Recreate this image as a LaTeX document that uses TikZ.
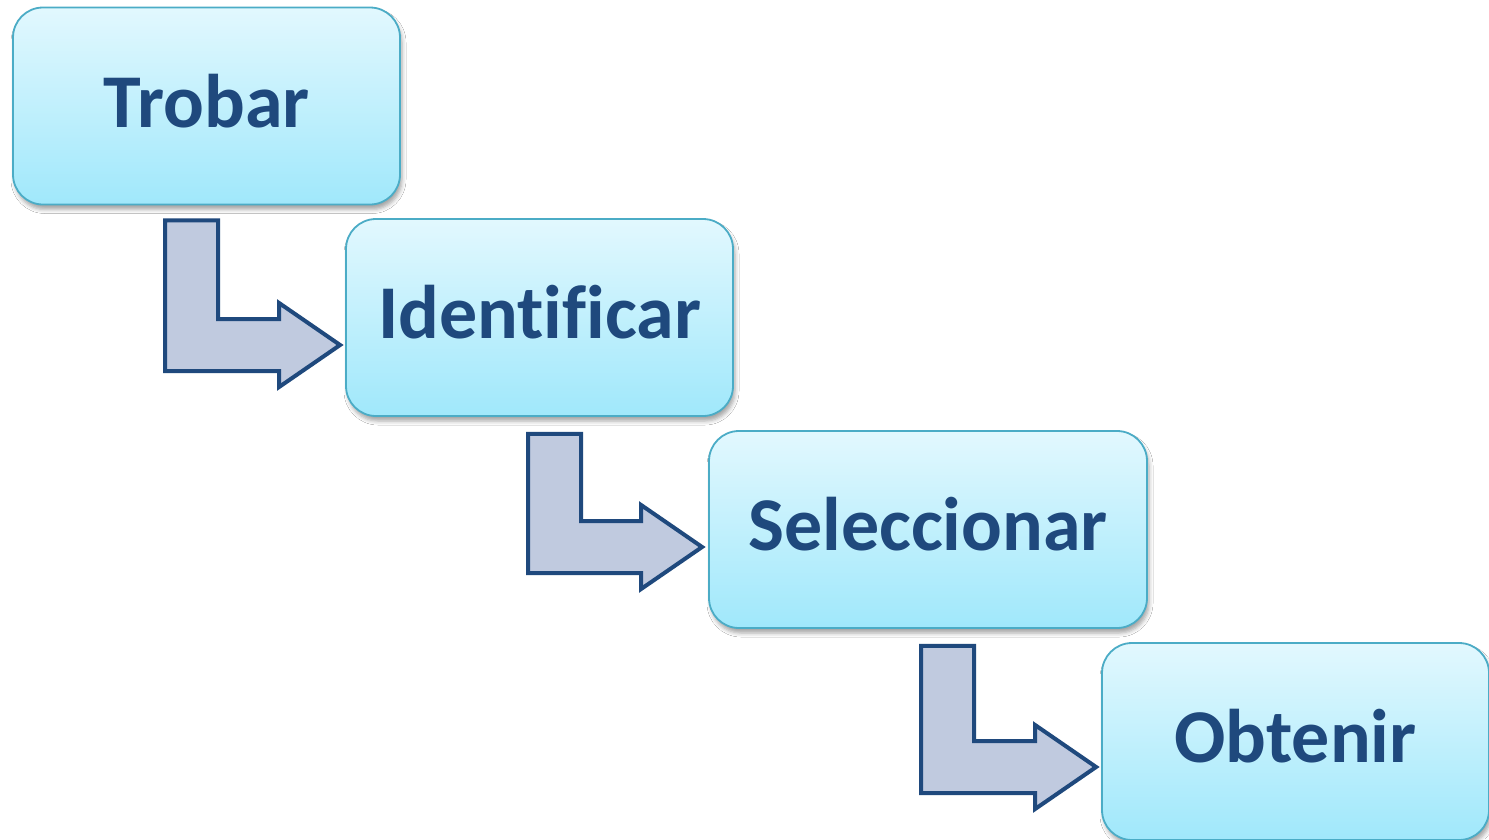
\documentclass[tikz,border=0pt]{standalone}
\usepackage{fontspec}
\setmainfont[Ligatures={NoCommon}]{Carlito}
\usetikzlibrary{calc,shadows.blur}

\definecolor{boxtop}{RGB}{226,248,254}
\definecolor{boxbottom}{RGB}{160,232,251}
\definecolor{boxline}{RGB}{75,172,198}
\definecolor{textblue}{RGB}{31,73,125}
\definecolor{arrowfill}{RGB}{192,202,223}
\definecolor{arrowline}{RGB}{31,73,125}

\tikzset{
  stagebox/.style={
    rectangle, rounded corners=30pt, draw=boxline, line width=1.8pt,
    top color=boxtop, bottom color=boxbottom,
    minimum height=197pt, inner sep=0pt,
    text height=60pt, text depth=18pt,
    text=textblue, font=\fontsize{76}{80}\selectfont\bfseries,
    blur shadow={shadow xshift=2pt, shadow yshift=-5pt,
                 shadow blur radius=4pt, shadow opacity=35}
  },
  bentarrow/.style={
    draw=arrowline, fill=arrowfill, line width=4pt, line join=miter
  }
}

% L-shaped block arrow from a start point (top-left of the stem) to a tip
\newcommand{\lblockarrow}[2]{%
  \draw[bentarrow] let \p1=(#1), \p2=(#2) in
    (\x1,\y1) -- (\x1+53pt,\y1) -- (\x1+53pt,\y2+26pt)
    -- (\x2-61pt,\y2+26pt) -- (\x2-61pt,\y2+42pt) -- (\x2,\y2)
    -- (\x2-61pt,\y2-42pt) -- (\x2-61pt,\y2-26pt) -- (\x1,\y2-26pt) -- cycle;
}

\begin{document}
\begin{tikzpicture}[x=1pt,y=-1pt]
  \useasboundingbox (0,0) rectangle (1489,839);
  \fill[white] (0,0) rectangle (1489,839);

  \node[stagebox, minimum width=387pt] (trobar) at (206.5,106) {Trobar};
  \node[stagebox, minimum width=387pt] (identificar) at (539.5,317.5) {Identificar};
  \node[stagebox, minimum width=438pt] (seleccionar) at (928,529.5) {Seleccionar};
  \node[stagebox, minimum width=387pt] (obtenir) at (1295.5,741.5) {Obtenir};

  % stem tops below each box and tips at the next box
  \coordinate (s1) at ($(trobar.south west)+(153,15)$);
  \coordinate (t1) at ($(identificar.west)+(-5,27.5)$);
  \coordinate (s2) at ($(identificar.south west)+(183,17)$);
  \coordinate (t2) at ($(seleccionar.west)+(-6,17.5)$);
  \coordinate (s3) at ($(seleccionar.south west)+(213,17)$);
  \coordinate (t3) at ($(obtenir.west)+(-5,25.5)$);

  \lblockarrow{s1}{t1}
  \lblockarrow{s2}{t2}
  \lblockarrow{s3}{t3}
\end{tikzpicture}
\end{document}
